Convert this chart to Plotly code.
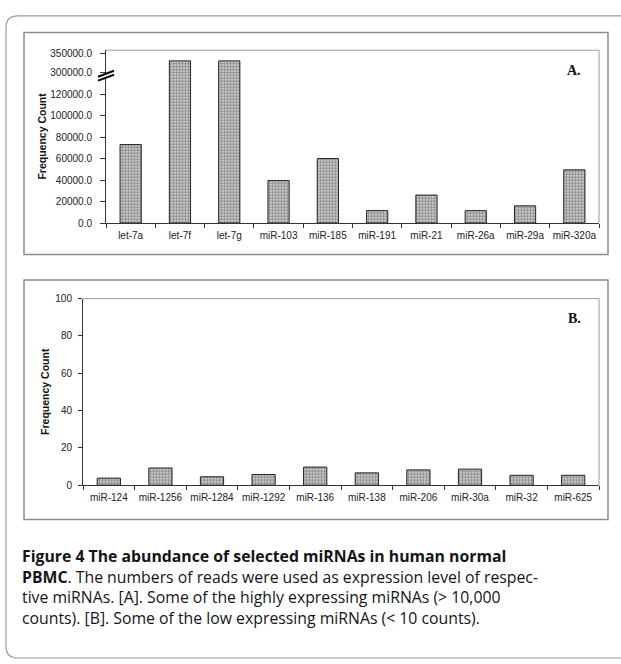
import plotly.graph_objects as go

W, H = 621, 664

# ---- data ----
cats_a = ["let-7a", "let-7f", "let-7g", "miR-103", "miR-185", "miR-191",
          "miR-21", "miR-26a", "miR-29a", "miR-320a"]
vals_a = [73000, 330000, 330000, 39500, 60000, 11500, 26000, 11500, 16000, 49500]
ticks_a_low = [0, 20000, 40000, 60000, 80000, 100000, 120000]
ticks_a_high = [300000, 350000]

cats_b = ["miR-124", "miR-1256", "miR-1284", "miR-1292", "miR-136", "miR-138",
          "miR-206", "miR-30a", "miR-32", "miR-625"]
vals_b = [3.8, 9.2, 4.5, 5.7, 9.7, 6.6, 8.2, 8.6, 5.3, 5.3]
ticks_b = [0, 20, 40, 60, 80, 100]

caption_lines = [
    "<b>Figure 4 The abundance of selected miRNAs in human normal</b>",
    "<b>PBMC</b>. The numbers of reads were used as expression level of respec-",
    "tive miRNAs. [A]. Some of the highly expressing miRNAs (&gt; 10,000",
    "counts). [B]. Some of the low expressing miRNAs (&lt; 10 counts).",
]


def px(x):
    return x / W


def py(y):
    return 1 - y / H


TICKFONT = dict(family="Liberation Sans, Arial", size=10, color="#222")
AXLINE = "#333"

bar_marker = dict(
    color="white",
    line=dict(color="#222", width=1),
    pattern=dict(shape=".", fgcolor="#262626", bgcolor="#e2e2e2", size=3, solidity=0.6),
)

fig = go.Figure()
fig.add_trace(go.Bar(x=cats_a, y=vals_a, xaxis="x", yaxis="y", width=0.43,
                     marker=bar_marker, showlegend=False))
fig.add_trace(go.Bar(x=cats_a, y=vals_a, xaxis="x", yaxis="y2", width=0.43,
                     marker=bar_marker, showlegend=False))
fig.add_trace(go.Bar(x=cats_b, y=vals_b, xaxis="x3", yaxis="y3", width=0.45,
                     marker=bar_marker, showlegend=False))

common_y = dict(showgrid=False, zeroline=False, showline=True, linecolor=AXLINE,
                linewidth=1, ticks="outside", tickcolor=AXLINE, tickfont=TICKFONT)
common_x = dict(type="category", showgrid=False, zeroline=False, showline=True,
                linecolor=AXLINE, linewidth=1, ticks="outside", tickson="boundaries",
                tickcolor=AXLINE, ticklen=4, tickfont=TICKFONT, ticklabelstandoff=3,
                tickangle=0)

brk = 72
fig.update_layout(
    width=W, height=H,
    margin=dict(l=0, r=0, t=0, b=0),
    paper_bgcolor="white", plot_bgcolor="white",
    bargap=0.5,
    xaxis=dict(domain=[px(106), px(599)], anchor="y", **common_x),
    yaxis=dict(domain=[py(221), py(brk)], range=[0, 136200], anchor="x",
               tickvals=ticks_a_low, ticktext=[f"{v:.1f}" for v in ticks_a_low],
               ticklen=5, ticklabelstandoff=6, **common_y),
    yaxis2=dict(domain=[py(brk), py(45)], range=[287600, 358700], anchor="x",
                tickvals=ticks_a_high, ticktext=[f"{v:.1f}" for v in ticks_a_high],
                ticklen=5, ticklabelstandoff=6, **common_y),
    xaxis3=dict(domain=[px(83), px(599)], anchor="y3", **common_x),
    yaxis3=dict(domain=[py(488), py(298)], range=[0, 100], anchor="x3",
                tickvals=ticks_b, ticklen=4, ticklabelstandoff=4, **common_y),
)

shapes = []
GRAY = "#8c8c8c"
# page frame (rounded, open on right)
shapes.append(dict(type="path", xref="paper", yref="paper",
                   path=(f"M {px(625)},{py(10)} L {px(18)},{py(10)} "
                         f"Q {px(6)},{py(10)} {px(6)},{py(22)} L {px(6)},{py(652)} "
                         f"Q {px(6)},{py(664)} {px(18)},{py(664)} L {px(625)},{py(664)}"),
                   line=dict(color="#9a9a9a", width=1.2)))
# panel boxes
for (t, b) in [(27, 253), (279, 523)]:
    shapes.append(dict(type="rect", xref="paper", yref="paper",
                       x0=px(24), x1=px(608), y0=py(b), y1=py(t),
                       line=dict(color=GRAY, width=1.5)))
# plot frames (top/right gray lines)
for (l, t, b) in [(106, 45, 221), (83, 298, 488)]:
    shapes.append(dict(type="path", xref="paper", yref="paper",
                       path=f"M {px(l)},{py(t)} L {px(599)},{py(t)} L {px(599)},{py(b)}",
                       line=dict(color="#9a9a9a", width=1)))
# axis break marks
shapes.append(dict(type="path", xref="paper", yref="paper",
                   path=(f"M {px(98)},{py(73)} L {px(114)},{py(67)} L {px(115)},{py(69.5)} "
                         f"L {px(99)},{py(75.5)} Z"),
                   fillcolor="white", line=dict(width=0)))
for dy in (0, 4):
    shapes.append(dict(type="line", xref="paper", yref="paper",
                       x0=px(98), y0=py(72 + dy), x1=px(114), y1=py(66 + dy),
                       line=dict(color="black", width=2)))
fig.update_layout(shapes=shapes)

ann = []
for (cx, cy) in [(42, 133), (45, 393)]:
    ann.append(dict(text="<b>Frequency Count</b>", x=px(cx), y=py(cy), xref="paper",
                    yref="paper", xanchor="center", yanchor="middle",
                    showarrow=False, textangle=-90,
                    font=dict(family="Liberation Sans, Arial", size=10.5, color="#111")))
for (lbl, cy) in [("A.", 66), ("B.", 318)]:
    ann.append(dict(text=f"<b>{lbl}</b>", x=px(574), y=py(cy), xref="paper", yref="paper",
                    xanchor="center", yanchor="middle", showarrow=False,
                    font=dict(family="Liberation Serif, Times New Roman", size=14, color="#111")))
ann.append(dict(text="<br>".join(caption_lines), x=px(20), y=py(547), xref="paper",
                yref="paper", xanchor="left", yanchor="top", align="left",
                showarrow=False,
                font=dict(family="Open Sans", size=15.8, color="#151515")))
fig.update_layout(annotations=ann)

fig.write_html("out.html", config={"displayModeBar": False},
               post_script="document.body.style.margin='0';")
